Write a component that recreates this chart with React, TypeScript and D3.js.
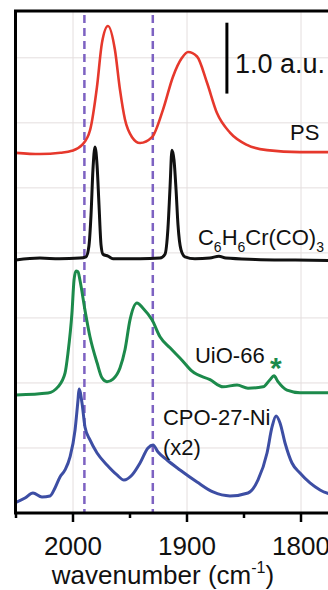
import React, { useEffect, useRef } from "react";
import * as d3 from "d3";

// [wavenumber, offset intensity in grid units]
const PS = [
  [2051, 5.54], [2029, 5.52], [2011, 5.54], [2001, 5.57], [1992, 5.66], [1985, 5.89],
  [1979, 6.55], [1974.6, 7.23], [1969.3, 7.49], [1963.2, 7.12], [1958.8, 6.51],
  [1954.4, 6.05], [1948.2, 5.78], [1941.2, 5.69], [1930.7, 5.78], [1921.1, 6.2],
  [1912.3, 6.71], [1904.4, 7.0], [1899.1, 7.09], [1891.2, 7.02], [1882.5, 6.62],
  [1873.7, 6.15], [1862.3, 5.85], [1847.4, 5.66], [1829.8, 5.58], [1800.9, 5.55],
  [1765, 5.55],
];
const CR = [
  [2051, 3.89], [2029, 3.92], [2012, 3.91], [1994, 3.92], [1988.6, 3.94],
  [1986, 4.11], [1984.2, 4.58], [1982.5, 5.28], [1980.7, 5.63], [1978.9, 5.35],
  [1977.2, 4.74], [1975.4, 4.12], [1973.7, 3.98], [1969.3, 3.95], [1964.9, 3.91],
  [1941.2, 3.91], [1923.7, 3.92], [1919.3, 3.98], [1916.7, 4.38], [1914.9, 5.0],
  [1913.2, 5.58], [1911.4, 5.43], [1909.6, 4.97], [1907.9, 4.43], [1905.3, 4.05],
  [1901.8, 3.94], [1893, 3.91], [1880, 3.92], [1872, 3.95], [1866, 3.92],
  [1840, 3.9], [1805, 3.89], [1765, 3.88],
];
const UIO = [
  [2051, 1.815], [2021.9, 1.846], [2013.2, 1.94], [2007, 2.15], [2004.4, 2.46],
  [2000.9, 3.08], [1999.1, 3.58], [1997.4, 3.72], [1995.6, 3.71], [1993.9, 3.58],
  [1989.5, 3.12], [1985.1, 2.71], [1978.9, 2.31], [1974.6, 2.08], [1970.2, 2.02],
  [1964.9, 2.06], [1958.8, 2.23], [1954.4, 2.51], [1950, 2.97], [1943.9, 3.23],
  [1938.6, 3.15], [1930.7, 2.97], [1923.7, 2.71], [1914.9, 2.54], [1904.4, 2.35],
  [1895.6, 2.18], [1879.8, 2.05], [1868.4, 1.94], [1856.1, 1.97], [1846.5, 1.92],
  [1833.3, 1.94], [1827.2, 2.05], [1823.7, 2.11], [1820.2, 2.02], [1812.3, 1.89],
  [1800.9, 1.85], [1765, 1.85],
];
const CPO = [
  [2051, 0.154], [2042.1, 0.231], [2035.1, 0.308], [2027.2, 0.246], [2020.2, 0.262],
  [2015.8, 0.385], [2011.4, 0.554], [2007, 0.662], [2002.6, 0.862], [1998.2, 1.277],
  [1995.6, 1.738], [1994.7, 1.908], [1992.1, 1.692], [1989.5, 1.323], [1985.1, 1.123],
  [1978.9, 0.923], [1970.2, 0.738], [1961.4, 0.585], [1955.3, 0.508], [1948.2, 0.585],
  [1941.2, 0.769], [1934.2, 1.0], [1929.8, 1.046], [1925.4, 0.938], [1917.5, 0.815],
  [1906.1, 0.662], [1891.2, 0.477], [1877.2, 0.323], [1862.3, 0.262], [1846.5, 0.308],
  [1837.7, 0.508], [1829.8, 0.923], [1825.4, 1.323], [1821.9, 1.492], [1818.4, 1.385],
  [1814, 1.077], [1807.9, 0.769], [1800.9, 0.615], [1792.1, 0.462], [1783.3, 0.354],
  [1765, 0.25],
];

const X_MAJOR = [2000, 1900, 1800];
const X_MINOR = [2050, 1950, 1850, 1750];
const Y_GRID = [1, 2, 3, 4, 5, 6, 7];
const MARKERS = [1990, 1930];
const SCALE_BAR = [6.45, 7.54];

const FONT = "'Liberation Sans', Arial, sans-serif";

const App = () => {
  const svgRef = useRef<SVGSVGElement>(null);

  useEffect(() => {
    if (!svgRef.current) return;
    const svg = d3.select(svgRef.current);
    svg.selectAll("*").remove();

    const x = d3.scaleLinear().domain([2050, 1750]).range([16, 358]);
    const y = d3.scaleLinear().domain([0, 7.72]).range([513, 11]);

    svg.append("defs").append("clipPath").attr("id", "plot")
      .append("rect")
      .attr("x", x(2050)).attr("y", y(7.72))
      .attr("width", x(1750) - x(2050)).attr("height", y(0) - y(7.72));

    // grid
    const grid = svg.append("g").attr("stroke", "#e4dede").attr("stroke-width", 1);
    X_MAJOR.forEach(v => {
      grid.append("line").attr("x1", x(v)).attr("x2", x(v)).attr("y1", y(0)).attr("y2", y(7.72));
    });
    Y_GRID.forEach(v => {
      grid.append("line").attr("x1", x(2050)).attr("x2", x(1750)).attr("y1", y(v)).attr("y2", y(v));
    });

    // dashed reference lines
    MARKERS.forEach(v => {
      svg.append("line")
        .attr("x1", x(v)).attr("x2", x(v)).attr("y1", y(7.72) + 4).attr("y2", y(0))
        .attr("stroke", "#7d62c2").attr("stroke-width", 2.5)
        .attr("stroke-dasharray", "8,5");
    });

    const line = d3.line<number[]>()
      .x(d => x(d[0])).y(d => y(d[1]))
      .curve(d3.curveMonotoneX);

    const plot = svg.append("g").attr("clip-path", "url(#plot)");
    [
      { data: PS, color: "#e6382c", w: 2.6 },
      { data: CR, color: "#111111", w: 3 },
      { data: UIO, color: "#1c8a4b", w: 3 },
      { data: CPO, color: "#3d4ea4", w: 3 },
    ].forEach(s => {
      plot.append("path")
        .attr("d", line(s.data))
        .attr("fill", "none")
        .attr("stroke", s.color)
        .attr("stroke-width", s.w)
        .attr("stroke-linejoin", "round");
    });

    // frame + axis
    svg.append("rect")
      .attr("x", x(2050) - 0.5).attr("y", y(7.72))
      .attr("width", x(1750) - x(2050)).attr("height", y(0) - y(7.72))
      .attr("fill", "none").attr("stroke", "#000").attr("stroke-width", 3);

    X_MAJOR.forEach(v => {
      svg.append("line").attr("x1", x(v)).attr("x2", x(v))
        .attr("y1", y(0)).attr("y2", y(0) + 9)
        .attr("stroke", "#000").attr("stroke-width", 2.5);
      svg.append("text")
        .attr("x", x(v)).attr("y", 555)
        .attr("text-anchor", "middle")
        .attr("font-family", FONT).attr("font-size", "26px")
        .attr("fill", "#111")
        .text(v);
    });
    X_MINOR.forEach(v => {
      svg.append("line").attr("x1", x(v)).attr("x2", x(v))
        .attr("y1", y(0)).attr("y2", y(0) + 5)
        .attr("stroke", "#000").attr("stroke-width", 2.5);
    });

    const axisLabel = svg.append("text")
      .attr("x", 163).attr("y", 584)
      .attr("text-anchor", "middle")
      .attr("font-family", FONT).attr("font-size", "26px")
      .attr("fill", "#111");
    axisLabel.append("tspan").text("wavenumber (cm");
    axisLabel.append("tspan").attr("font-size", "16px").attr("dy", -11).text("-1");
    axisLabel.append("tspan").attr("dy", 11).text(")");

    // scale bar
    svg.append("line")
      .attr("x1", x(1865)).attr("x2", x(1865))
      .attr("y1", y(SCALE_BAR[0])).attr("y2", y(SCALE_BAR[1]))
      .attr("stroke", "#000").attr("stroke-width", 3);
    svg.append("text")
      .attr("x", x(1858)).attr("y", y(6.77))
      .attr("font-family", FONT).attr("font-size", "27px").attr("fill", "#111")
      .text("1.0 a.u.");

    const label = (wn: number, v: number, txt: string, color = "#111") =>
      svg.append("text")
        .attr("x", x(wn)).attr("y", y(v))
        .attr("font-family", FONT).attr("font-size", "22px").attr("fill", color)
        .text(txt);

    label(1809.6, 5.74, "PS");
    label(1893, 2.31, "UiO-66");
    label(1921.1, 1.354, "CPO-27-Ni");
    label(1921.1, 0.89, "(x2)");

    svg.append("text")
      .attr("x", x(1822)).attr("y", y(2.08))
      .attr("text-anchor", "middle")
      .attr("font-family", FONT).attr("font-size", "30px").attr("font-weight", "bold")
      .attr("fill", "#1c8a4b")
      .text("*");

    const cr = svg.append("text")
      .attr("x", x(1890.4)).attr("y", y(4.12))
      .attr("font-family", FONT).attr("font-size", "22px").attr("fill", "#111");
    [["C", 0], ["6", 1], ["H", 0], ["6", 1], ["Cr(CO)", 0], ["3", 1]].forEach(([t, sub], i, arr) => {
      const prev = i > 0 ? arr[i - 1][1] : 0;
      const ts = cr.append("tspan").text(t as string);
      if (sub) ts.attr("font-size", "14px").attr("dy", prev ? 0 : 7);
      else if (prev) ts.attr("dy", -7);
    });
  }, []);

  return (
    <svg
      ref={svgRef}
      width={328}
      height={590}
      style={{ position: "absolute", left: 0, top: 0, background: "#fff" }}
    />
  );
};

export default App;
